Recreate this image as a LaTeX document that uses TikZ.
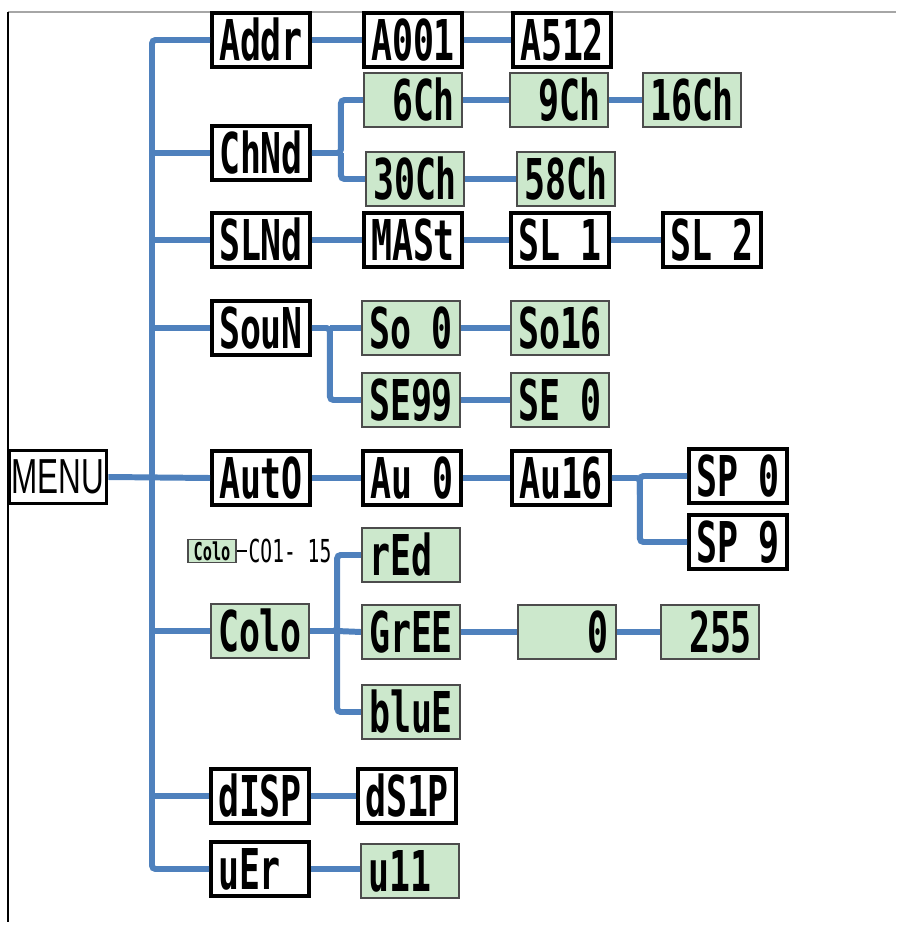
\documentclass[tikz,border=0pt]{standalone}
\usepackage{fontspec}
\newfontfamily\lcdfont[FakeStretch=0.62]{DejaVu Sans Mono}
\newfontfamily\menufont[FakeStretch=0.64]{Liberation Sans}
\definecolor{wireblue}{RGB}{79,129,189}
\definecolor{panelgreen}{RGB}{204,232,204}
\newcommand{\blank}{\phantom{0}}

\begin{document}
\begin{tikzpicture}[x=0.02cm, y=-0.02cm,
  wire/.style={draw=wireblue, line width=3.4pt, rounded corners=2pt},
  lcd/.style={draw=black, line width=2.2pt, fill=white, minimum width=1.96cm,
    minimum height=1.08cm, inner sep=0pt,
    font=\lcdfont\bfseries\fontsize{32}{32}\selectfont},
  greenlcd/.style={lcd, fill=panelgreen, draw=black!70, line width=1.3pt},
  minilcd/.style={greenlcd, minimum width=0.96cm, minimum height=0.46cm,
    line width=0.8pt, font=\lcdfont\bfseries\fontsize{14}{14}\selectfont},
  menubox/.style={draw=black, line width=2.2pt, fill=white, minimum width=1.94cm,
    minimum height=1.06cm, inner sep=0pt, font=\menufont\fontsize{28}{28}\selectfont}
]
\useasboundingbox (0,0) rectangle (896,926);

% frame
\draw[black!35, line width=1pt] (8,12) -- (896,12);
\draw[black, line width=1pt] (8,12) -- (8,922);

% main menu
\node[menubox] (menu) at (58,477) {MENU};

% Addr
\node[lcd] (addr) at (261,40) {Addr};
\node[lcd] (a001) at (413,40) {A001};
\node[lcd] (a512) at (562,40) {A512};

% ChNd
\node[lcd] (chnd) at (261,153) {ChNd};
\node[greenlcd] (ch6) at (413,100) {\blank 6Ch};
\node[greenlcd] (ch9) at (559,100) {\blank 9Ch};
\node[greenlcd] (ch16) at (692,100) {16Ch};
\node[greenlcd] (ch30) at (415,179) {30Ch};
\node[greenlcd] (ch58) at (566,179) {58Ch};

% SLNd
\node[lcd] (slnd) at (261,240) {SLNd};
\node[lcd] (mast) at (413,240) {MASt};
\node[lcd] (sl1) at (560,240) {SL\blank 1};
\node[lcd] (sl2) at (712,240) {SL\blank 2};

% SouN
\node[lcd] (soun) at (261,328) {SouN};
\node[greenlcd] (so0) at (411,328) {So\blank 0};
\node[greenlcd] (so16) at (560,328) {So16};
\node[greenlcd] (se99) at (411,400) {SE99};
\node[greenlcd] (se0) at (560,400) {SE\blank 0};

% AutO
\node[lcd] (auto) at (261,478) {AutO};
\node[lcd] (au0) at (412,478) {Au\blank 0};
\node[lcd] (au16) at (561,478) {Au16};
\node[lcd] (sp0) at (738,476) {SP\blank 0};
\node[lcd] (sp9) at (738,542) {SP\blank 9};

% Colo
\node[minilcd] (colomini) at (212,551) {Colo};
\node[font=\lcdfont\fontsize{18}{18}\selectfont, inner sep=1pt] (colorange) at (290,551) {CO1- 15};
\node[greenlcd] (colo) at (260,631) {Colo};
\node[greenlcd] (red) at (411,555) {rEd\blank};
\node[greenlcd] (gree) at (411,632) {GrEE};
\node[greenlcd] (blue) at (411,712) {bluE};
\node[greenlcd] (val0) at (567,632) {\blank\blank\blank 0};
\node[greenlcd] (val255) at (710,632) {\blank 255};

% dISP, UEr
\node[lcd] (disp) at (260,796) {dISP};
\node[lcd] (ds1p) at (407,796) {dS1P};
\node[lcd] (uer) at (260,869) {uEr\blank};
\node[greenlcd] (u11) at (410,871) {u11\blank};

% trunk
\coordinate (ttop) at (152,40);
\coordinate (tbot) at (152,869);
\draw[wire] (addr.west) -- (ttop) -- (tbot) -- (uer.west);
\draw[wire] (menu.east) -- (auto.west);
\foreach \n in {chnd,slnd,soun,colo,disp}
  \draw[wire] (\n.west) -- (\n.west -| ttop);

% branches
\draw[wire] (addr) -- (a001);
\draw[wire] (a001) -- (a512);
\draw[wire] (chnd.east) -- ++(29,0) coordinate (chfork) |- (ch6.west);
\draw[wire] (chfork) |- (ch30.west);
\draw[wire] (ch6) -- (ch9);
\draw[wire] (ch9) -- (ch16);
\draw[wire] (ch30) -- (ch58);
\draw[wire] (slnd) -- (mast);
\draw[wire] (mast) -- (sl1);
\draw[wire] (sl1) -- (sl2);
\draw[wire] (soun.east) -- ++(18,0) coordinate (sofork) |- (se99.west);
\draw[wire] (sofork) -- (so0.west);
\draw[wire] (so0) -- (so16);
\draw[wire] (se99) -- (se0);
\draw[wire] (auto) -- (au0);
\draw[wire] (au0) -- (au16);
\draw[wire] (au16.east) -- ++(28,0) coordinate (aufork) |- (sp9.west);
\draw[wire] (aufork) |- (sp0.west);
\draw[black, line width=0.8pt] (colomini.east) -- (colorange.west);
\draw[wire] (colo.east) -- ++(27,0) coordinate (cofork) |- (red.west);
\draw[wire] (cofork) |- (blue.west);
\draw[wire] (cofork) -- (gree.west);
\draw[wire] (gree) -- (val0);
\draw[wire] (val0) -- (val255);
\draw[wire] (disp) -- (ds1p);
\draw[wire] (uer) -- (uer -| u11.west);
\end{tikzpicture}
\end{document}
